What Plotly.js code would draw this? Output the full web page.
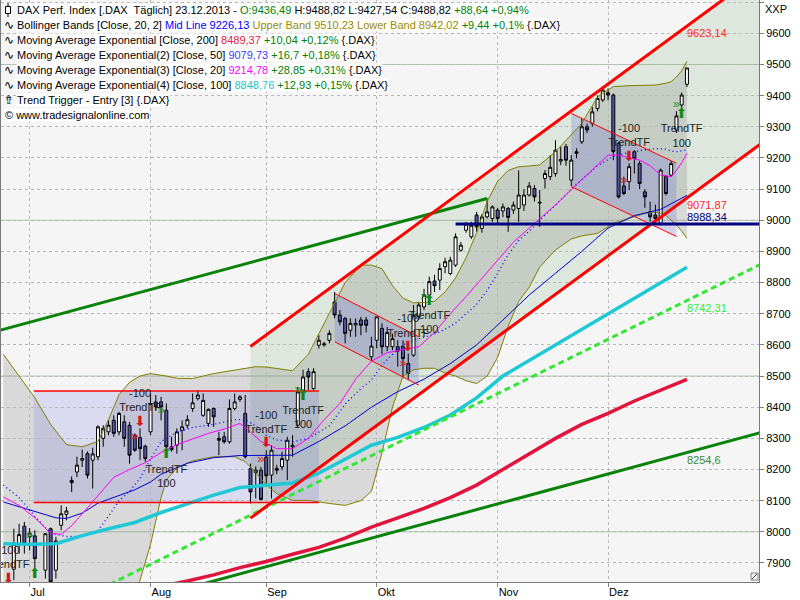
<!DOCTYPE html>
<html><head><meta charset="utf-8">
<script src="https://cdn.plot.ly/plotly-3.0.1.min.js"></script>
<style>html,body{margin:0;padding:0;background:#fff}#chart{width:800px;height:600px}</style>
</head><body><div id="chart"></div>
<script>
// ---------- trading calendar (category axis) ----------
function tradingDays(a,b){const out=[];let d=new Date(a+'T00:00:00Z');const e=new Date(b+'T00:00:00Z');
  while(d<=e){const w=d.getUTCDay();if(w!==0&&w!==6)out.push(d.toISOString().slice(0,10));d.setUTCDate(d.getUTCDate()+1);}return out;}
const dates = tradingDays('2013-06-24','2013-12-23');
const monthNames = {'07':'Jul','08':'Aug','09':'Sep','10':'Okt','11':'Nov','12':'Dez'};

// ---------- OHLC ----------
const open = [7760,7740,7880,7962,8018,7985,7987,7830,7877,8010,
7877,8021,8056,8165,8192,8230,8251,8230,8241,8300,
8321,8358,8321,8353,8342,8310,8302,8275,8321,8417,
8417,8390,8273,8278,8326,8342,8396,8428,8374,8348,
8396,8300,8305,8289,8396,8425,8380,8203,8190,8198,
8240,8182,8203,8209,8230,8273,8342,8455,8514,8460,
8599,8600,8615,8738,8696,8685,8647,8664,8680,8680,
8562,8615,8653,8594,8594,8594,8594,8540,8567,8690,
8722,8760,8805,8808,8851,8829,8856,8904,8968,8947,
9017,8974,9011,9006,9033,9030,9038,9033,9038,9049,
9081,9102,9058,9134,9140,9150,9190,9236,9129,9220,
9252,9300,9311,9359,9386,9409,9402,9247,9110,9124,
9220,9182,9091,9027,9017,8990,9140,9145,9290,9370,
9436.49];
const high = [7790,7828,8010,8026,8032,8012,8005,7838,7996,8014,
7984,8085,8080,8178,8241,8264,8258,8270,8342,8342,
8358,8374,8385,8374,8353,8316,8332,8280,8444,8439,
8433,8412,8305,8332,8358,8374,8444,8455,8444,8396,
8399,8321,8321,8425,8444,8439,8439,8219,8210,8208,
8262,8278,8215,8257,8305,8310,8465,8520,8525,8525,
8631,8610,8647,8770,8712,8690,8685,8685,8690,8690,
8626,8690,8669,8658,8636,8615,8615,8572,8728,8738,
8780,8819,8825,8862,8880,8883,8958,8930,8995,8995,
9027,9020,9070,9048,9040,9054,9043,9060,9160,9100,
9123,9113,9097,9161,9209,9257,9236,9245,9209,9231,
9327,9310,9364,9400,9429,9423,9407,9252,9140,9183,
9225,9190,9100,9060,9050,9166,9145,9190,9350,9410,
9488.82];
const low = [7660,7720,7845,7930,7930,7940,7877,7740,7850,7780,
7850,8005,8037,8128,8176,8208,8171,8139,8230,8273,
8310,8305,8310,8273,8219,8257,8230,8225,8310,8390,
8358,8262,8257,8251,8262,8332,8385,8422,8369,8337,
8337,8246,8283,8283,8390,8417,8235,8091,8107,8101,
8150,8107,8185,8198,8166,8241,8337,8450,8455,8455,
8588,8594,8605,8685,8663,8605,8626,8626,8631,8640,
8551,8589,8570,8580,8583,8530,8495,8487,8562,8680,
8712,8755,8770,8776,8830,8824,8850,8899,8960,8940,
8963,8960,9006,8995,8990,9010,8963,9020,8995,9030,
9076,9060,8979,9102,9129,9140,9177,9175,9110,9199,
9245,9280,9300,9350,9380,9385,9193,9070,9081,9097,
9150,9100,9040,8995,8990,8984,9080,9140,9280,9355,
9427.54];
const close = [7700,7800,7960,7991,7962,7996,7914,7800,7994,7840,
7971,8058,8067,8158,8214,8235,8182,8250,8337,8332,
8342,8316,8380,8300,8246,8262,8267,8235,8412,8401,
8401,8273,8264,8321,8337,8360,8414,8439,8422,8393,
8369,8294,8289,8396,8417,8433,8241,8128,8198,8104,
8180,8262,8198,8235,8294,8278,8449,8497,8497,8514,
8615,8603,8637,8696,8674,8637,8669,8669,8663,8663,
8596,8690,8594,8640,8620,8580,8556,8508,8695,8728,
8760,8803,8790,8845,8867,8872,8947,8920,8988,8984,
8979,9011,9027,9043,9006,9043,9009,9049,9081,9081,
9110,9075,9056,9150,9170,9225,9195,9193,9193,9215,
9300,9290,9348,9391,9418,9402,9220,9075,9086,9172,
9198,9118,9075,9011,9006,9161,9086,9182,9335,9402,
9488.82];

// ---------- Bollinger Bands (20,2) ----------
const bbX = [0,3,6,9,12,15,18,20,22,24,26,28,30,31,33,36,40,44,46,48,50,52,55,58,62,65,68,70,72,74,76,78,80,82,84,86,88,90,92,94,96,98,100,102,105,108,110,113,116,119,122,124,126,127,128,129,130];
const bbUpper = [8570,8500,8430,8345,8280,8273,8290,8360,8440,8480,8500,8508,8503,8500,8493,8492,8508,8520,8526,8530,8529,8525,8517,8570,8700,8800,8856,8856,8845,8790,8750,8735,8736,8740,8770,8815,8880,8960,9060,9125,9160,9172,9174,9178,9220,9275,9311,9396,9429,9432,9433,9434,9440,9445,9460,9480,9510];
const bbMid = [8150,8110,8050,7995,7985,7985,8005,8050,8100,8130,8172,8234,8290,8300,8320,8335,8345,8360,8360,8340,8310,8295,8289,8300,8340,8410,8460,8487,8535,8570,8600,8615,8625,8635,8650,8670,8700,8730,8775,8830,8890,8935,8965,9000,9048,9100,9130,9175,9205,9218,9226,9230,9228,9222,9220,9222,9226];
const bbLower = [7700,7660,7630,7600,7600,7640,7700,7740,7760,7780,7845,7960,8110,8166,8205,8228,8241,8241,8225,8190,8150,8123,8101,8101,8091,8085,8100,8130,8253,8400,8500,8520,8525,8525,8510,8500,8485,8476,8500,8560,8660,8740,8785,8850,8905,8940,8950,8958,8990,9005,9022,9027,9015,9000,8985,8965,8942];

// ---------- Exponential moving averages ----------
const ema200X = [25,30,35,40,45,50,55,60,65,70,75,80,85,90,95,100,105,110,115,120,125,130];
const ema200 = [7805,7825,7842,7862,7885,7905,7928,7950,7980,8015,8045,8075,8110,8150,8200,8250,8300,8345,8380,8420,8455,8489];
const ema100X = [0,5,10,15,20,25,30,35,40,45,50,55,60,65,70,75,80,85,90,95,100,105,110,115,120,125,130];
const ema100 = [7962,7960,7962,7988,8010,8030,8062,8090,8118,8142,8150,8157,8188,8232,8278,8303,8335,8375,8430,8500,8550,8600,8650,8700,8750,8800,8849];
const ema50X = [0,5,10,12,15,18,20,25,28,30,35,40,45,50,55,60,62,65,70,75,80,85,90,95,100,105,110,115,120,125,130];
const ema50 = [8096,8070,8045,8043,8060,8092,8105,8135,8160,8185,8220,8238,8245,8246,8246,8290,8310,8340,8400,8450,8490,8540,8600,8680,8760,8830,8900,8975,9015,9035,9080];
const ema20X = [0,3,6,9,11,13,15,18,21,24,27,30,33,36,39,42,45,47,49,52,55,58,61,64,67,70,73,76,79,82,85,88,91,94,97,100,103,106,109,112,115,117,119,121,123,125,127,128,129,130];
const ema20 = [8112,8085,8045,7995,7992,8020,8058,8118,8175,8200,8222,8255,8280,8298,8316,8330,8348,8320,8290,8267,8267,8300,8360,8412,8490,8548,8575,8585,8594,8640,8700,8755,8815,8872,8930,8975,9020,9065,9115,9161,9209,9209,9200,9193,9175,9145,9140,9160,9185,9215];

// ---------- drawn objects (anchors: [bar1, value1, bar2, value2]) ----------
const chanUpper = [47, 8595, 130, 9623.14];
const chanLower = [47, 8044, 130, 9071.87];
const greenTop  = [0, 8650, 92, 9070];
const greenLow  = [50, 7888, 130, 8254.6];
const limeLine  = [72, 8261, 130, 8742.31];
const supportLevel = 8988.34, supportStart = 86;
const rangeBox = {x0:5.8, x1:60, lo:8094, hi:8452};
const sepFlag = {x0:63, top0:8765, bot0:8610, x1:79, top1:8626, bot1:8471};
const decFlag = {x0:108, top0:9343, bot0:9108, x1:128, top1:9183, bot1:8948};
const endLabels = [
  {line:chanUpper, text:'9623,14', color:'#ff2a2a', anchor:'top'},
  {line:chanLower, text:'9071,87', color:'#ff2a2a', anchor:'top'},
  {line:null, value:supportLevel, text:'8988,34', color:'#000080', anchor:'bottom'},
  {line:limeLine, text:'8742,31', color:'#33ee33', anchor:'top'},
  {line:greenLow, text:'8254,6', color:'#3a8a3a', anchor:'top'}
];

// ---------- Trend Trigger signals ----------
const sigIdx = [1,6,26,31,50,57,77,81,119,129];
const sigDir = [-1,1,-1,1,-1,1,-1,1,-1,1];
const chevIdx = [5,25,30,49,56,76,80,118,128];
const chevVal = [7989,8304,8390,8230,8455,8541,8753,9126,9370];
const chevDir = [1,-1,1,-1,1,-1,1,-1,1];

const gridMajor = [8000,8500,9000,9500];

// ---------- helpers ----------
const lastBar = dates.length-1;
function lineAt(a,x){return a[1]+(a[3]-a[1])*(x-a[0])/(a[2]-a[0]);}
function pathOf(xs,ys){return xs.map((x,i)=>(i?'L':'M')+x+','+ys[i]).join(' ')+' Z';}
const X_MIN=-0.44, X_MAX=143.7, Y_MIN=7839, Y_MAX=9707;

const tickIdx=[],tickText=[];
dates.forEach((d,i)=>{const m=d.slice(5,7);if(i>0&&m!==dates[i-1].slice(5,7)&&monthNames[m]){tickIdx.push(i);tickText.push(monthNames[m]);}});

const traces=[];
traces.push({type:'candlestick',x:dates.map((d,i)=>i),open,high,low,close,
  increasing:{line:{color:'#000000',width:1},fillcolor:'#ffffff'},
  decreasing:{line:{color:'#000000',width:1},fillcolor:'#5656a8'},
  whiskerwidth:0,hoverinfo:'skip',showlegend:false});

function ln(x,y,color,width,dash){return {type:'scatter',mode:'lines',x,y,line:{color,width,dash:dash||'solid'},hoverinfo:'skip',showlegend:false};}
traces.push(ln(bbX,bbLower,'#808000',1));
traces.push(ln(bbX,bbUpper,'#808000',1));
traces.push(ln(bbX,bbMid,'#0000ff',1.3,'1px,3px'));
traces.push(ln(ema200X,ema200,'#e0143c',3.5));
traces.push(ln(ema100X,ema100,'#1ec8d4',3.5));
traces.push(ln(ema50X,ema50,'#0000d0',1));
traces.push(ln(ema20X,ema20,'#ff00ff',1));
traces.push(ln([-2,greenTop[2]],[lineAt(greenTop,-2),greenTop[3]],'#0a820a',3));
traces.push(ln([30,150],[lineAt(greenLow,30),lineAt(greenLow,150)],'#0a820a',3));
traces.push(ln([10,150],[lineAt(limeLine,10),lineAt(limeLine,150)],'#33e633',3,'6px,4px'));
traces.push(ln([rangeBox.x0,rangeBox.x1,null,rangeBox.x0,rangeBox.x1],[rangeBox.hi,rangeBox.hi,null,rangeBox.lo,rangeBox.lo],'#ff0000',1.5));
[sepFlag,decFlag].forEach(f=>traces.push(ln([f.x0,f.x1,null,f.x0,f.x1],[f.top0,f.top1,null,f.bot0,f.bot1],'#ff0000',1)));
traces.push(ln([chanUpper[0],150,null,chanLower[0],150],[chanUpper[1],lineAt(chanUpper,150),null,chanLower[1],lineAt(chanLower,150)],'#ff0000',3));
traces.push(ln([supportStart,150],[supportLevel,supportLevel],'#000080',3));

// signals
const sx=[],sy=[],st=[],lx=[],ly=[],lt=[];
sigIdx.forEach((k,j)=>{
  if(sigDir[j]<0){sx.push(k);sy.push(high[k]);st.push('-100<br>TrendTF<br><span style="color:#d81818;font-size:14px">⬇</span>');}
  else{lx.push(k);ly.push(low[k]);lt.push('<span style="color:#108a10;font-size:14px">⬆</span><br>TrendTF<br>100');}
});
const tf={family:'Liberation Sans, DejaVu Sans, sans-serif',size:11,color:'#1e1e1e'};
traces.push({type:'scatter',mode:'text',x:sx,y:sy,text:st,textposition:'top center',textfont:tf,cliponaxis:true,hoverinfo:'skip',showlegend:false});
traces.push({type:'scatter',mode:'text',x:lx,y:ly,text:lt,textposition:'bottom center',textfont:tf,cliponaxis:true,hoverinfo:'skip',showlegend:false});
traces.push({type:'scatter',mode:'text',x:chevIdx,y:chevVal,text:chevIdx.map(()=>'»'),textposition:'middle center',
  textfont:{family:'Liberation Sans, sans-serif',size:13,color:chevDir.map(d=>d>0?'#1a9a1a':'#e02020')},cliponaxis:true,hoverinfo:'skip',showlegend:false});

// ---------- shapes ----------
const shapes=[];
gridMajor.forEach(v=>shapes.push({type:'line',xref:'paper',x0:0,x1:1,yref:'y',y0:v,y1:v,line:{color:'#b2c6b0',width:1},layer:'below'}));
shapes.push({type:'path',xref:'x',yref:'y',layer:'below',line:{width:0},fillcolor:'rgba(60,140,60,0.13)',
  path:pathOf([chanLower[0],chanUpper[0],150,150],[chanLower[1],chanUpper[1],lineAt(chanUpper,150),lineAt(chanLower,150)])});
shapes.push({type:'path',xref:'x',yref:'y',layer:'below',line:{width:0},fillcolor:'rgba(105,105,105,0.2)',
  path:pathOf(bbX.concat(bbX.slice().reverse()),bbUpper.concat(bbLower.slice().reverse()))});
shapes.push({type:'rect',xref:'x',yref:'y',layer:'below',line:{width:0},fillcolor:'rgba(90,90,225,0.17)',
  x0:rangeBox.x0,x1:rangeBox.x1,y0:rangeBox.lo,y1:rangeBox.hi});
[sepFlag,decFlag].forEach(f=>shapes.push({type:'path',xref:'x',yref:'y',layer:'below',line:{width:0},fillcolor:'rgba(90,90,225,0.22)',
  path:pathOf([f.x0,f.x1,f.x1,f.x0],[f.top0,f.top1,f.bot1,f.bot0])}));
// legend candle icon
const px=(x)=>(x-1)/758, py=(y)=>1-y/582;
shapes.push({type:'line',xref:'paper',yref:'paper',x0:px(8),x1:px(8),y0:py(3),y1:py(17),line:{color:'#000',width:1}});
shapes.push({type:'rect',xref:'paper',yref:'paper',x0:px(5.5),x1:px(10.5),y0:py(6.5),y1:py(13.5),line:{color:'#000',width:1},fillcolor:'#fff'});
// resize grip, bottom-right corner
shapes.push({type:'rect',xref:'paper',yref:'paper',x0:px(751),x1:px(758),y0:py(580),y1:py(573),line:{color:'#808080',width:1},fillcolor:'#f5f5f5'});
shapes.push({type:'line',xref:'paper',yref:'paper',x0:px(752),x1:px(757),y0:py(579),y1:py(574),line:{color:'#404040',width:1}});

// ---------- annotations ----------
const ann=[];
endLabels.forEach(e=>{
  const v = e.line ? lineAt(e.line,lastBar) : e.value;
  ann.push({xref:'x',yref:'y',x:lastBar,y:v,text:e.text,showarrow:false,xanchor:'left',yanchor:e.anchor,
    font:{family:'Liberation Sans, sans-serif',size:11,color:e.color},borderpad:0,xshift:-1});
});
const G='#008000';
const sp=(c,t)=>'<span style="color:'+c+'">'+t+'</span>';
const legendLines=[
  'DAX Perf. Index [.DAX  Täglich] 23.12.2013 - '+sp(G,'O:9436,49')+' H:9488,82 L:9427,54 C:9488,82 '+sp(G,'+88,64 +0,94%'),
  'Bollinger Bands [Close, 20, 2] '+sp('#0000ff','Mid Line 9226,13')+' '+sp('#9a8c00','Upper Band 9510,23')+' '+sp('#9a8c00','Lower Band 8942,02')+' '+sp(G,'+9,44 +0,1%')+' {.DAX}',
  'Moving Average Exponential [Close, 200] '+sp('#e8203c','8489,37')+' '+sp(G,'+10,04 +0,12%')+' {.DAX}',
  'Moving Average Exponential(2) [Close, 50] '+sp('#3c3cff','9079,73')+' '+sp(G,'+16,7 +0,18%')+' {.DAX}',
  'Moving Average Exponential(3) [Close, 20] '+sp('#ff00ff','9214,78')+' '+sp(G,'+28,85 +0,31%')+' {.DAX}',
  'Moving Average Exponential(4) [Close, 100] '+sp('#22c4cc','8848,76')+' '+sp(G,'+12,93 +0,15%')+' {.DAX}',
  'Trend Trigger - Entry [3] {.DAX}'
];
legendLines.forEach((t,k)=>{
  const yc=10+15*k;
  ann.push({xref:'paper',yref:'paper',x:px(16),y:py(yc),text:t,showarrow:false,xanchor:'left',yanchor:'middle',
    bgcolor:'#ffffff',borderpad:0,font:{family:'Liberation Sans, Arial, sans-serif',size:11,color:'#000'}});
  if(k>0&&k<6) ann.push({xref:'paper',yref:'paper',x:px(3),y:py(yc),text:'∿',showarrow:false,xanchor:'left',yanchor:'middle',
    borderpad:0,font:{family:'DejaVu Sans, sans-serif',size:12,color:'#000'}});
  if(k===6) ann.push({xref:'paper',yref:'paper',x:px(3),y:py(yc),text:'⇮',showarrow:false,xanchor:'left',yanchor:'middle',
    borderpad:0,font:{family:'DejaVu Sans, sans-serif',size:12,color:'#000'}});
});
ann.push({xref:'paper',yref:'paper',x:px(4),y:py(115),text:'© www.tradesignalonline.com',showarrow:false,xanchor:'left',yanchor:'middle',
  bgcolor:'#ffffff',borderpad:0,font:{family:'Liberation Sans, Arial, sans-serif',size:11,color:'#000'}});
ann.push({xref:'paper',yref:'paper',x:px(763),y:py(9),text:'XXP',showarrow:false,xanchor:'left',yanchor:'middle',
  font:{family:'Liberation Sans, Arial, sans-serif',size:11,color:'#000'}});

const layout={
  width:800,height:600,margin:{l:1,r:41,t:0,b:18,pad:0},
  paper_bgcolor:'#ffffff',plot_bgcolor:'#f5f5f5',showlegend:false,hovermode:false,
  font:{family:'Liberation Sans, Arial, sans-serif',size:11,color:'#000'},
  boxgap:0.2,
  xaxis:{range:[X_MIN,X_MAX],tickmode:'array',tickvals:tickIdx,ticktext:tickText,ticks:'outside',ticklen:4,tickcolor:'#808080',
    showgrid:true,gridcolor:'#b8b8b8',griddash:'dot',zeroline:false,showline:true,linecolor:'#7a7a7a',linewidth:1,
    ticklabelposition:'outside right',rangeslider:{visible:false},fixedrange:true,tickfont:{size:11}},
  yaxis:{range:[Y_MIN,Y_MAX],side:'right',dtick:100,tick0:0,ticks:'outside',ticklen:4,tickcolor:'#808080',
    showgrid:true,gridcolor:'#b8b8b8',griddash:'dot',zeroline:false,showline:true,mirror:true,linecolor:'#7a7a7a',linewidth:1,
    tickformat:'d',fixedrange:true,tickfont:{size:11}},
  shapes,annotations:ann
};
Plotly.newPlot('chart',traces,layout,{staticPlot:true,displayModeBar:false});
</script></body></html>
